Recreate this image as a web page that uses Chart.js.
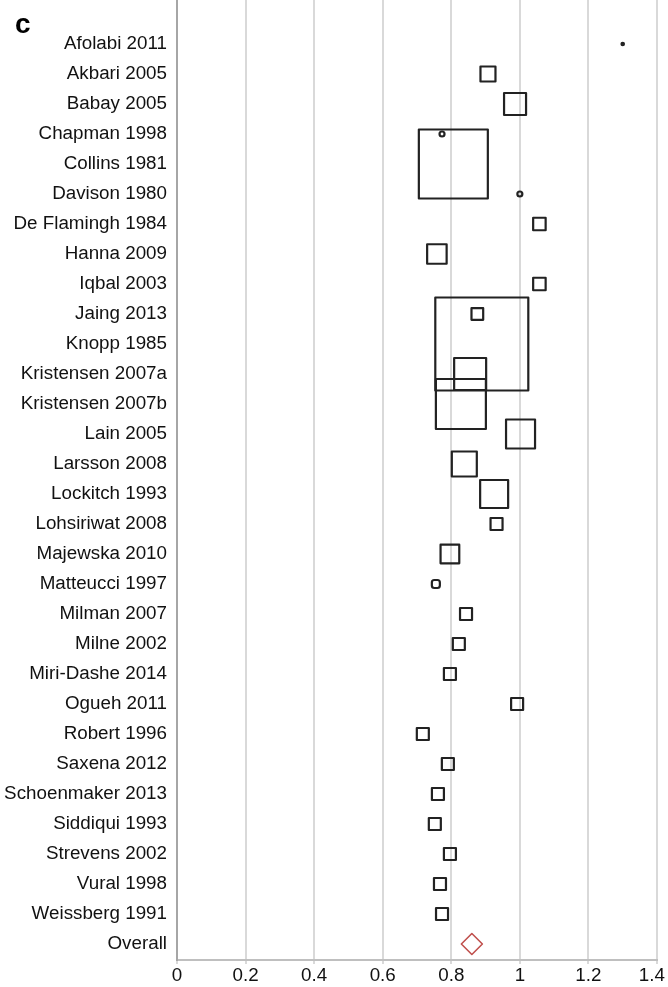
<!DOCTYPE html>
<html><head><meta charset="utf-8">
<script src="https://cdn.jsdelivr.net/npm/chart.js@4.4.1/dist/chart.umd.min.js"></script>
<style>html,body{margin:0;padding:0;background:#fff;}#wrap{width:668px;height:987px;}</style>
</head><body><div id="wrap"><canvas id="c" width="668" height="987"></canvas></div>
<script>
const studies = ["Afolabi 2011","Akbari 2005","Babay 2005","Chapman 1998","Collins 1981","Davison 1980","De Flamingh 1984","Hanna 2009","Iqbal 2003","Jaing 2013","Knopp 1985","Kristensen 2007a","Kristensen 2007b","Lain 2005","Larsson 2008","Lockitch 1993","Lohsiriwat 2008","Majewska 2010","Matteucci 1997","Milman 2007","Milne 2002","Miri-Dashe 2014","Ogueh 2011","Robert 1996","Saxena 2012","Schoenmaker 2013","Siddiqui 1993","Strevens 2002","Vural 1998","Weissberg 1991"];
const estimates = [1.30,0.907,0.986,0.773,0.806,1.0,1.057,0.758,1.057,0.876,0.889,0.855,0.828,1.002,0.838,0.925,0.932,0.796,0.755,0.843,0.822,0.796,0.992,0.717,0.790,0.761,0.752,0.796,0.767,0.773];
const weights = [0.06,2.25,4.84,0.25,47.6,0.25,1.56,3.8,1.56,1.37,86.5,10.24,25,8.41,6.25,7.84,1.44,3.5,0.64,1.44,1.44,1.44,1.44,1.44,1.44,1.44,1.44,1.44,1.44,1.44];
const overallLabel = "Overall";
const overallEstimate = 0.86;
const xTickValues = [0,0.2,0.4,0.6,0.8,1,1.2,1.4];
const panelLetter = "c";

const categories = studies.concat([overallLabel]);
const FONT = '"Liberation Sans", Arial, sans-serif';

function sideOf(w){ return 10*Math.sqrt(w); }
const styles = weights.map(w => { const s = sideOf(w); return s < 6 ? 'circle' : (s < 10 ? 'rectRounded' : 'rect'); });
const radii = weights.map(w => { const s = sideOf(w); return s < 6 ? s/2 : (s < 10 ? s/1.716 : s/Math.SQRT2); });

const letterPlugin = {
  id: 'letter',
  beforeDatasetsDraw(chart){ chart.ctx.lineJoin = 'round'; },
  afterDraw(chart){
    const ctx = chart.ctx;
    ctx.save();
    ctx.font = 'bold 28px ' + FONT;
    ctx.fillStyle = '#000';
    ctx.textBaseline = 'alphabetic';
    ctx.fillText(panelLetter, 15, 33);
    ctx.restore();
  }
};

new Chart(document.getElementById('c'), {
  type: 'scatter',
  data: {
    datasets: [
      {
        data: estimates.map((v,i) => ({x: v, y: i})),
        pointStyle: styles,
        pointRadius: radii,
        pointHoverRadius: radii,
        borderColor: '#222222',
        backgroundColor: 'rgba(0,0,0,0)',
        borderWidth: 2.2,
        clip: false
      },
      {
        data: [{x: overallEstimate, y: studies.length}],
        pointStyle: 'rectRot',
        pointRadius: 10.5,
        borderColor: '#c0504d',
        backgroundColor: 'rgba(0,0,0,0)',
        borderWidth: 1.6,
        clip: false
      }
    ]
  },
  options: {
    responsive: false,
    animation: false,
    layout: { autoPadding: false, padding: { left: 0, right: 11, top: 0, bottom: 0 } },
    plugins: { legend: { display: false }, tooltip: { enabled: false } },
    scales: {
      x: {
        type: 'linear', min: 0, max: 1.4,
        afterBuildTicks(scale){ scale.ticks = xTickValues.map(v => ({value: v})); },
        afterFit(scale){ scale.height = 27; scale.paddingLeft = 0; scale.paddingRight = 0; },
        grid: { color: '#d9d9d9', lineWidth: 2, tickLength: 4, drawTicks: true },
        border: { color: '#bfbfbf', width: 2 },
        ticks: { color: '#111111', font: { family: FONT, size: 18.8 }, padding: 1, maxRotation: 0, autoSkip: false,
          callback: (v, i, ticks) => String(Math.round(v*10)/10) + (i === ticks.length - 1 ? '  ' : '') }
      },
      y: {
        type: 'linear', reverse: true, min: -1.4667, max: 30.5333,
        afterBuildTicks(scale){ scale.ticks = categories.map((c,i) => ({value: i})); },
        afterFit(scale){ scale.width = 177; scale.paddingTop = 0; scale.paddingBottom = 0; },
        grid: { display: false, drawTicks: false },
        border: { display: true, color: '#a6a6a6', width: 2 },
        ticks: { color: '#111111', font: { family: FONT, size: 18.8 }, padding: 10, autoSkip: false,
          callback: (v) => categories[Math.round(v)] }
      }
    }
  },
  plugins: [letterPlugin]
});
</script>
</body></html>
